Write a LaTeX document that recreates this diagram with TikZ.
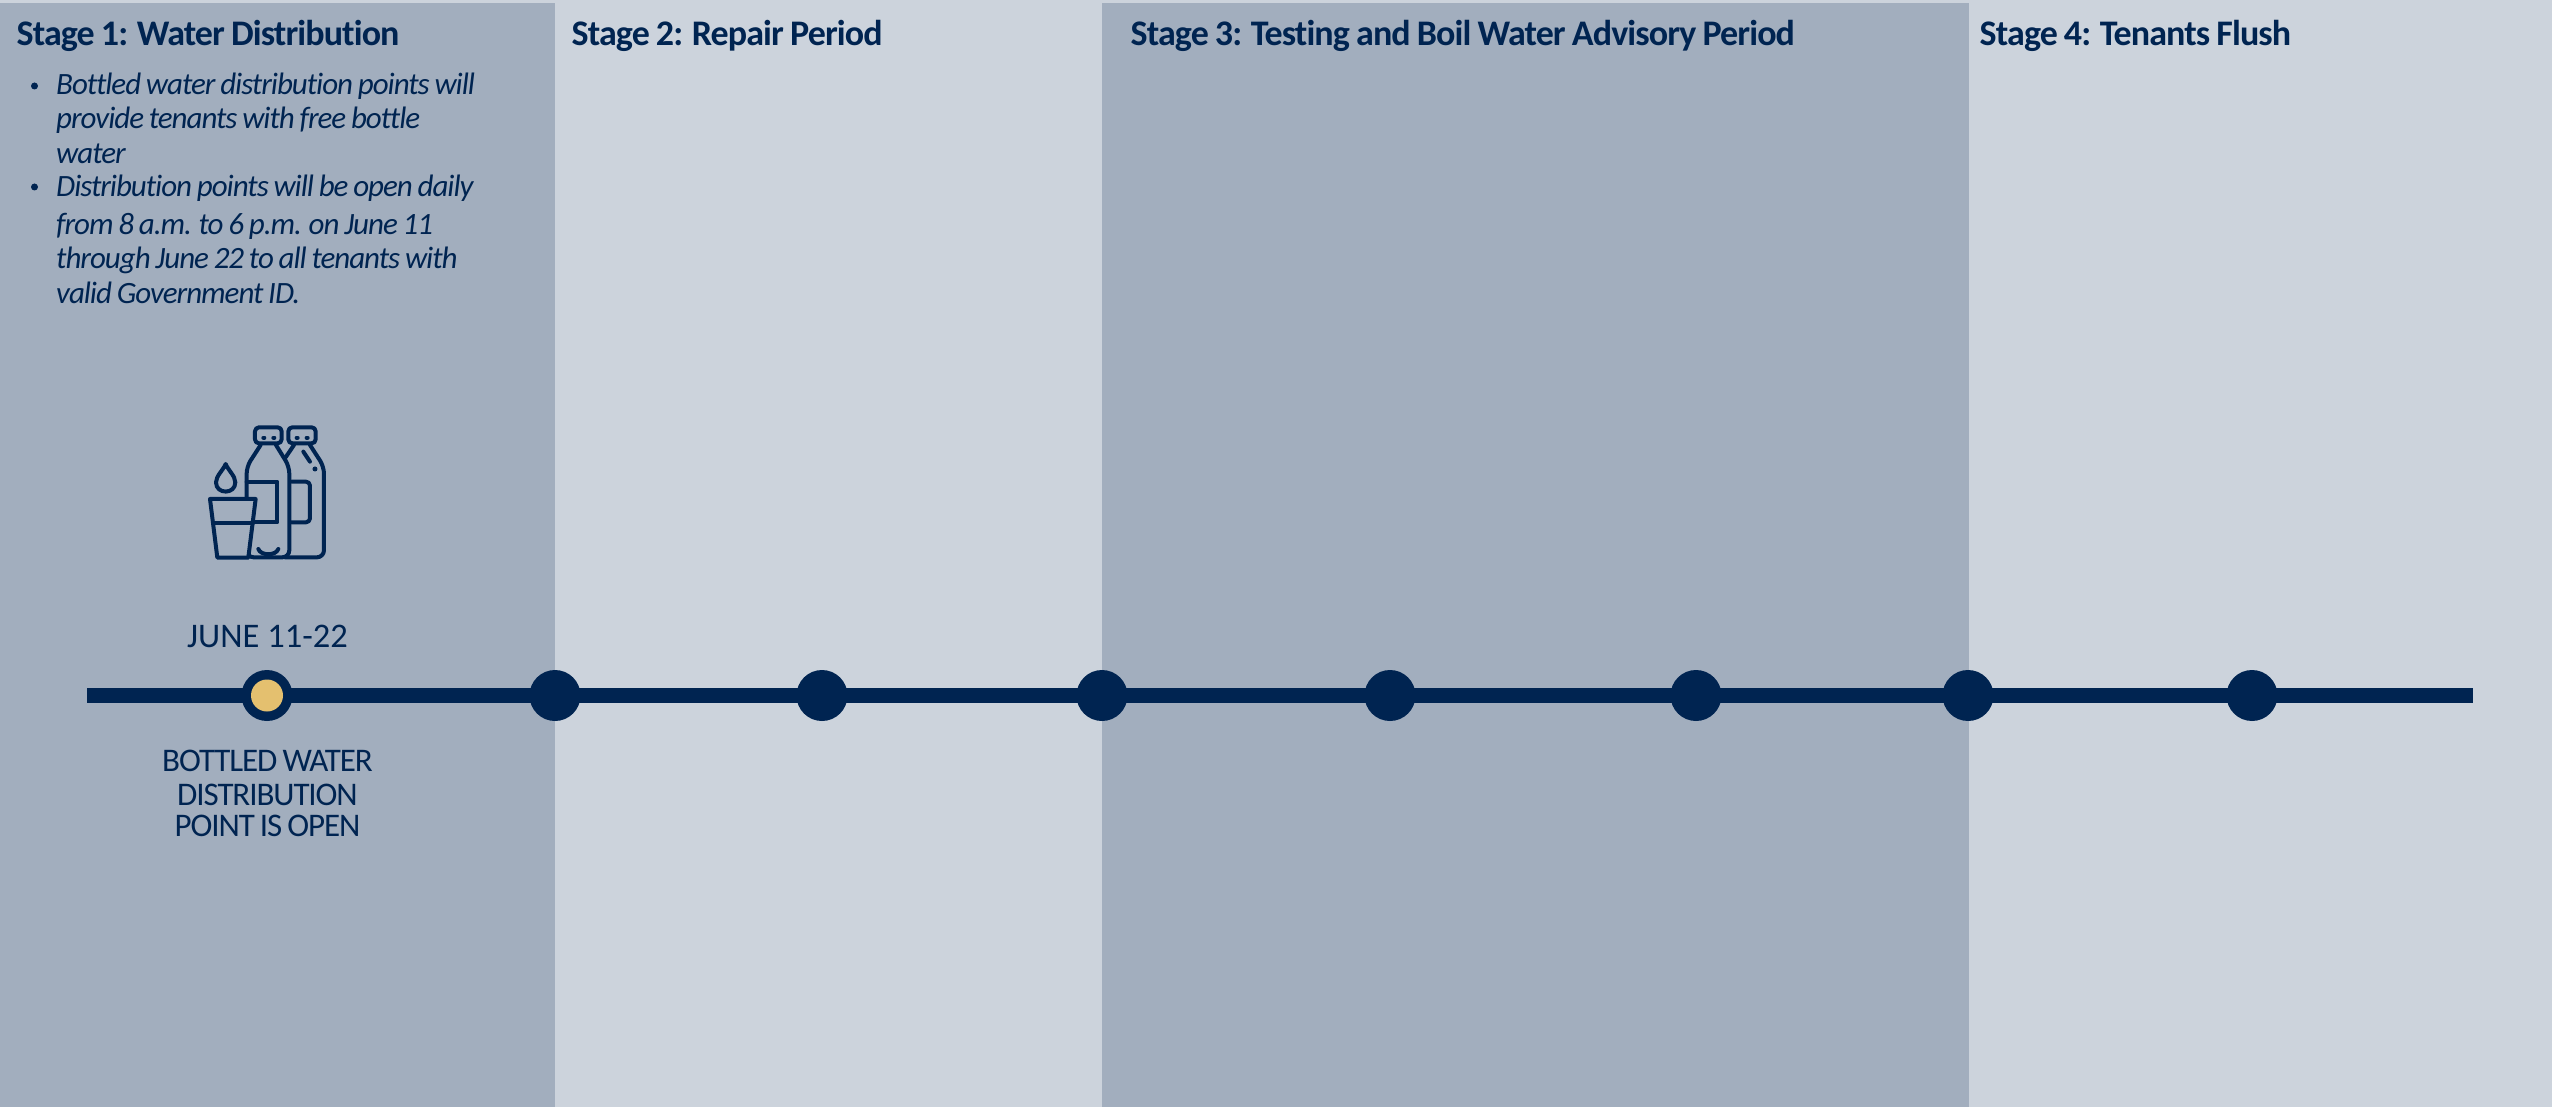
\documentclass[tikz,border=0pt]{standalone}
\usepackage{fontspec}
\setmainfont{Carlito}[Ligatures=NoCommon]
\newfontfamily\tightfont{Carlito}[LetterSpace=-3.3,WordSpace=0.8,Ligatures=NoCommon]
\newfontfamily\titlefont{Carlito}[LetterSpace=-2.5,WordSpace=0.85,Ligatures=NoCommon]
\definecolor{navy}{HTML}{002451}
\definecolor{paneldark}{HTML}{A2AEBE}
\definecolor{panellight}{HTML}{CCD3DC}
\definecolor{gold}{HTML}{E4C06F}
\tikzset{
  stagetitle/.style={anchor=base west,inner sep=0pt,text=navy,font=\titlefont\fontsize{36}{42}\selectfont\bfseries},
  bodyline/.style={anchor=base west,inner sep=0pt,text=navy,font=\tightfont\fontsize{31}{36}\selectfont\itshape},
  bulletmark/.style={circle,fill=navy,inner sep=0pt,minimum size=7pt},
  caption/.style={anchor=base,inner sep=0pt,text=navy,font=\tightfont\fontsize{33}{38}\selectfont},
  datelabel/.style={anchor=base,inner sep=0pt,text=navy,font=\fontsize{34.5}{40}\selectfont},
  stop/.style={circle,fill=navy,inner sep=0pt,minimum size=51pt},
  icon/.style={draw=navy,line width=4pt,line join=round,line cap=round},
}
\begin{document}
\begin{tikzpicture}[x=1pt,y=-1pt]
\useasboundingbox (0,0) rectangle (2552,1107);
\fill[panellight] (0,0) rectangle (2552,1107);
\fill[paneldark] (0,3) rectangle (555,1107);
\fill[panellight] (555,3) rectangle (1102,1107);
\fill[paneldark] (1102,3) rectangle (1969,1107);
% titles
\node[stagetitle] (t1) at (16.5,45.5) {Stage 1: Water Distribution};
\node[stagetitle] (t2) at (571.5,45.5) {Stage 2: Repair Period};
\node[stagetitle] (t3) at (1130.5,45.5) {Stage 3: Testing and Boil Water Advisory Period};
\node[stagetitle] (t4) at (1979.5,45.5) {Stage 4: Tenants Flush};
% body
\node[bulletmark] (b1) at (34.5,86) {};
\node[bulletmark] (b2) at (34.5,187) {};
\node[bodyline] (l1) at (56,95) {Bottled water distribution points will};
\node[bodyline] (l2) at (56,129) {provide tenants with free bottle};
\node[bodyline] (l3) at (56,164) {water};
\node[bodyline] (l4) at (56,197) {Distribution points will be open daily};
\node[bodyline] (l5) at (56,235) {from 8 a.m. to 6 p.m. on June 11};
\node[bodyline] (l6) at (56,269) {through June 22 to all tenants with};
\node[bodyline] (l7) at (56,304) {valid Government ID.};
% icon
\begin{scope}[shift={(170,400)},x=0.3333pt,y=-0.3333pt,icon]
  \draw[rounded corners=4pt] (255,130) -- (255,82) -- (335,82) -- (335,130) -- cycle;
  \draw[rounded corners=4pt] (355,130) -- (355,82) -- (437,82) -- (437,130) -- cycle;
  \draw (280,113) -- (283,113) (310,113) -- (313,113) (380,113) -- (383,113) (410,113) -- (413,113);
  \draw[rounded corners=7pt] (272,135) -- (230,200) -- (230,472) -- (358,472) -- (358,200) -- (318,135);
  \draw[rounded corners=4pt] (372,135) -- (347,172);
  \draw[rounded corners=7pt] (420,135) -- (462,200) -- (462,472) -- (345,472);
  \draw (230,245) -- (322,245) -- (322,367) -- (245,367);
  \draw[rounded corners=4pt] (365,245) -- (420,245) -- (420,367) -- (365,367);
  \draw (400,155) -- (420,185);
  \fill[navy] (435,207) circle (2.5pt);
  \draw (265,447) .. controls (272,468) and (318,468) .. (325,447);
  \draw[fill=paneldark] (120,297) -- (257,297) -- (235,473) -- (142,473) -- cycle;
  \draw (135,370) -- (249,370);
  \draw (167,192) .. controls (160,210) and (138,228) .. (138,247)
        .. controls (138,284) and (196,284) .. (196,247)
        .. controls (196,228) and (174,210) .. (167,192) -- cycle;
\end{scope}
% timeline
\coordinate (start) at (87,695.5);
\coordinate (end) at (2473,695.5);
\draw[navy,line width=15pt] (start) -- (end);
\node[stop] (s1) at (267,695.5) {};
\node[stop] (s2) at (555,695.5) {};
\node[stop] (s3) at (822,695.5) {};
\node[stop] (s4) at (1102,695.5) {};
\node[stop] (s5) at (1390,695.5) {};
\node[stop] (s6) at (1696,695.5) {};
\node[stop] (s7) at (1968,695.5) {};
\node[stop] (s8) at (2252,695.5) {};
\node[circle,fill=gold,inner sep=0pt,minimum size=32pt] (s1core) at (s1) {};
% captions
\node[datelabel] (c1) at (267.5,647) {JUNE 11-22};
\node[caption] (c2) at (267.5,771) {BOTTLED WATER};
\node[caption] (c3) at (267.5,805) {DISTRIBUTION};
\node[caption] (c4) at (267.5,836.5) {POINT IS OPEN};
\end{tikzpicture}
\end{document}
